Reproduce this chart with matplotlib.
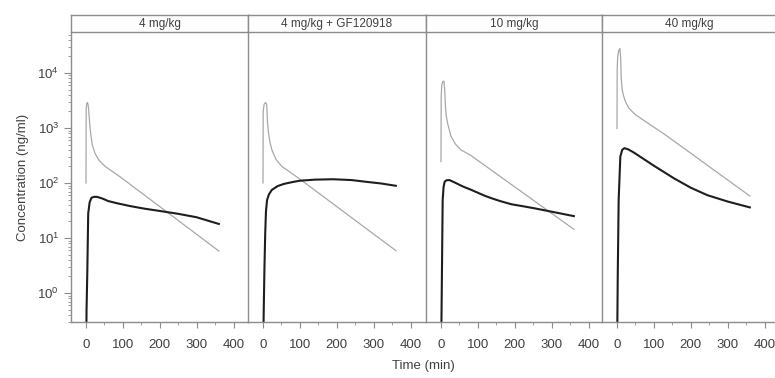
import matplotlib
matplotlib.use("Agg")
import matplotlib.pyplot as plt
from matplotlib.ticker import LogLocator, NullFormatter

plt.rcParams['font.family'] = ['Liberation Sans', 'DejaVu Sans']

panels = ['4 mg/kg', '4 mg/kg + GF120918', '10 mg/kg', '40 mg/kg']

# grey curve (thin)
grey_t = [
    [0, 0.5, 2, 4, 6, 8, 10, 13, 17, 24, 35, 52, 92, 360],
    [0, 0.5, 3, 7, 10, 11, 12, 15, 19, 24, 35, 51, 96, 360],
    [0, 0.5, 2, 5, 8, 10, 12, 14, 18, 27, 40, 54, 80, 360],
    [0, 0.5, 2, 5, 8, 10, 11.5, 14, 18, 23, 32, 50, 131, 360],
]
grey_c = [
    [100, 2200, 2800, 2900, 2600, 1800, 1200, 750, 500, 350, 260, 200, 130, 5.8],
    [100, 2000, 2700, 2900, 2700, 2000, 1300, 800, 550, 400, 270, 200, 123, 5.9],
    [245, 3500, 6000, 7000, 7100, 5000, 2500, 1700, 1200, 710, 500, 400, 320, 14.4],
    [980, 12000, 20000, 26000, 28000, 18000, 8000, 5000, 3800, 3000, 2300, 1740, 750, 58],
]

# black curve (thick)
black_t = [
    [0, 1.5, 3.5, 6, 10, 15, 22, 30, 45, 60, 83, 120, 160, 200, 250, 300, 360],
    [0, 2, 4, 6, 8, 11, 16, 24, 40, 56, 80, 100, 140, 190, 240, 280, 320, 360],
    [0, 2, 4.5, 7, 10, 15, 23, 40, 60, 82, 120, 140, 160, 191, 220, 250, 290, 360],
    [0, 2, 4.5, 9, 14, 20, 30, 45, 63, 100, 154, 200, 245, 300, 360],
]
black_c = [
    [0.05, 0.5, 2.3, 28, 45, 54, 56, 56, 52, 47, 43, 38, 34, 31, 27.5, 23.8, 18],
    [0.05, 0.5, 3, 12, 30, 49, 62, 75, 88, 96, 104, 110, 115, 117, 113, 105, 98, 89],
    [0.05, 1, 49, 85, 106, 112, 113, 100, 86, 75, 58, 52, 47, 41, 38, 35, 31, 25],
    [0.05, 2, 49, 300, 400, 430, 410, 360, 300, 206, 122, 82, 60, 46, 36],
]

W, H = 775, 378
edges = [71, 248, 426, 602, 777]
top, bottom, strip_top = 32, 322, 15
axcol = '#8c8c8c'
txtcol = '#404040'

fig = plt.figure(figsize=(7.75, 3.78), dpi=100)

def px_axes(x0, y0, x1, y1):
    return fig.add_axes([x0 / W, 1 - y1 / H, (x1 - x0) / W, (y1 - y0) / H])

for i in range(4):
    x0, x1 = edges[i], edges[i + 1]
    ax = px_axes(x0, top, x1, bottom)
    ax.plot(grey_t[i], grey_c[i], color='#a8a8a8', lw=0.9)
    ax.plot(black_t[i], black_c[i], color='#1e1e1e', lw=1.5)
    ax.set_yscale('log')
    ax.set_ylim(0.297, 55600)
    width = x1 - x0
    ax.set_xlim(-15 / 0.369, (width - 15) / 0.369)
    ax.set_xticks([0, 100, 200, 300, 400])
    ax.set_xticks([50, 150, 250, 350], minor=True)
    ax.tick_params(axis='x', which='major', direction='out', length=4, color=axcol,
                   labelcolor=txtcol, labelsize=9.5, pad=8)
    ax.tick_params(axis='x', which='minor', direction='out', length=2.5, color=axcol)
    for s in ['top', 'right']:
        ax.spines[s].set_visible(False)
    if i == 3:
        ax.spines['right'].set_visible(True)
    for s in ax.spines.values():
        s.set_color(axcol)
        s.set_linewidth(1.0)
    if i == 0:
        ax.yaxis.set_major_locator(LogLocator(base=10, numticks=10))
        ax.yaxis.set_minor_locator(LogLocator(base=10, subs=range(2, 10), numticks=20))
        ax.yaxis.set_minor_formatter(NullFormatter())
        ax.tick_params(axis='y', which='major', direction='out', length=5, color=axcol,
                       labelcolor=txtcol, labelsize=9.5)
        ax.tick_params(axis='y', which='minor', direction='out', length=2.5, color=axcol)
        ax.set_ylabel('Concentration (ng/ml)', color=txtcol, fontsize=9.5, labelpad=6)
    else:
        ax.tick_params(axis='y', which='both', left=False, labelleft=False)

    st = px_axes(x0, strip_top, x1, top)
    st.set_xticks([])
    st.set_yticks([])
    for s in st.spines.values():
        s.set_color(axcol)
        s.set_linewidth(1.0)
    st.text(0.5, 0.5, panels[i], ha='center', va='center', fontsize=8.5, color=txtcol,
            transform=st.transAxes)

fig.text(423 / W, 1 - 366 / H, 'Time (min)', ha='center', va='center', fontsize=9.5, color=txtcol)

fig.savefig('out.png', dpi=100)
